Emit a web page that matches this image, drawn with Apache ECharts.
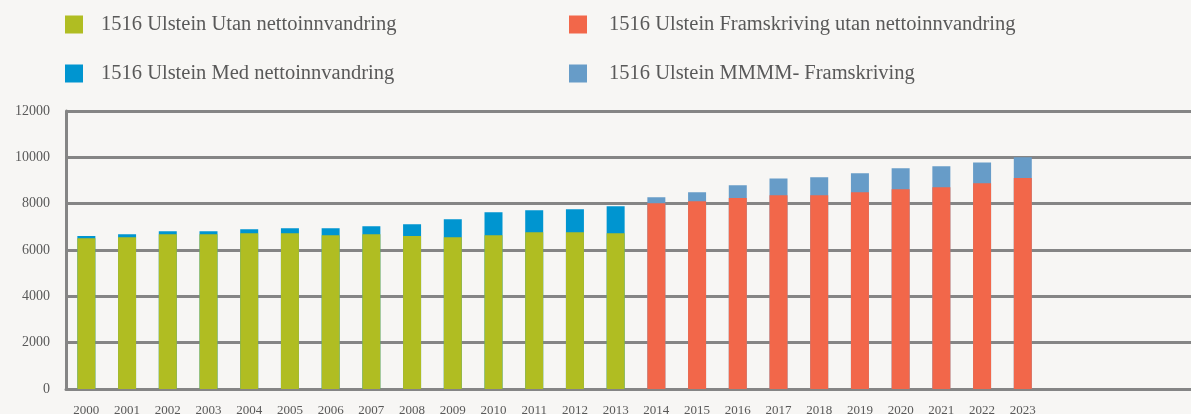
<!DOCTYPE html>
<html>
<head>
<meta charset="utf-8">
<script src="https://cdn.jsdelivr.net/npm/echarts@6/dist/echarts.min.js"></script>
<style>
  html, body { margin: 0; padding: 0; background: #f7f6f4; }
  #main { width: 1191px; height: 414px; }
</style>
</head>
<body>
<div id="main"></div>
<script>
// årstal (tomme plassar til høgre for å få aksen ut til kanten)
var years = ['2000','2001','2002','2003','2004','2005','2006','2007','2008','2009','2010','2011',
             '2012','2013','2014','2015','2016','2017','2018','2019','2020','2021','2022','2023',
             '','','',''];

// folketal, avlese frå figuren
var utanNetto = [6510,6550,6680,6680,6720,6720,6640,6680,6600,6550,6640,6770,6770,6720];
var medNetto  = [6600,6680,6810,6810,6900,6940,6940,7030,7110,7330,7630,7720,7760,7890];
var framUtan  = [8020,8100,8250,8360,8360,8490,8620,8710,8880,9110];
var mmmm      = [8280,8490,8790,9090,9140,9310,9530,9610,9780,10000];

var yTicks = [0,2000,4000,6000,8000,10000,12000];

var navn = ['1516 Ulstein Utan nettoinnvandring',
            '1516 Ulstein Med nettoinnvandring',
            '1516 Ulstein Framskriving utan nettoinnvandring',
            '1516 Ulstein MMMM- Framskriving'];

// legg historiske og framskrivne tal på rett plass langs aksen
function fyll(arr, start) {
    var out = [];
    for (var i = 0; i < years.length; i++) {
        var j = i - start;
        out.push(j >= 0 && j < arr.length ? arr[j] : null);
    }
    return out;
}

var font = "'Liberation Serif', 'DejaVu Serif', serif";
var myChart = echarts.init(document.getElementById('main'));

function legendText(pad) {
    return {
        color: '#595959',
        fontFamily: font,
        fontSize: 20.5,
        lineHeight: 18,
        padding: [0, 0, 0, pad]
    };
}

option = {
    backgroundColor: '#f7f6f4',
    animation: false,
    legend: [
        {
            data: [navn[0], navn[1]],
            orient: 'vertical',
            left: 65, top: 14, padding: 0,
            icon: 'rect', itemWidth: 18, itemHeight: 18, itemGap: 28,
            textStyle: legendText(13)
        },
        {
            data: [navn[2], navn[3]],
            orient: 'vertical',
            left: 569, top: 14, padding: 0,
            icon: 'rect', itemWidth: 18, itemHeight: 18, itemGap: 28,
            textStyle: legendText(17)
        }
    ],
    grid: { left: 66, width: 1140, top: 111, bottom: 25, outerBoundsMode: 'none', containLabel: false },
    xAxis: {
        type: 'category',
        data: years,
        axisLine: { lineStyle: { color: '#858585', width: 3 } },
        axisTick: { show: false },
        axisLabel: {
            interval: 0, margin: 15,
            color: '#595959', fontFamily: font, fontSize: 13
        }
    },
    yAxis: {
        type: 'value',
        min: yTicks[0], max: yTicks[yTicks.length - 1], interval: 2000,
        axisLine: { show: true, lineStyle: { color: '#858585', width: 3 } },
        axisTick: { show: false },
        splitLine: { lineStyle: { color: '#858585', width: 3 } },
        axisLabel: {
            margin: 16,
            color: '#595959', fontFamily: font, fontSize: 14,
            formatter: function (v) { return String(v); }
        }
    },
    series: [
        { name: navn[1], type: 'bar', data: fyll(medNetto, 0), barWidth: 18, barGap: '-100%',
          itemStyle: { color: '#0095d0' } },
        { name: navn[3], type: 'bar', data: fyll(mmmm, 14), barWidth: 18, barGap: '-100%',
          itemStyle: { color: '#679cc8' } },
        { name: navn[0], type: 'bar', data: fyll(utanNetto, 0), barWidth: 18, barGap: '-100%',
          itemStyle: { color: '#b0bd22' } },
        { name: navn[2], type: 'bar', data: fyll(framUtan, 14), barWidth: 18, barGap: '-100%',
          itemStyle: { color: '#f2674a' } }
    ]
};
myChart.setOption(option);
</script>
</body>
</html>
